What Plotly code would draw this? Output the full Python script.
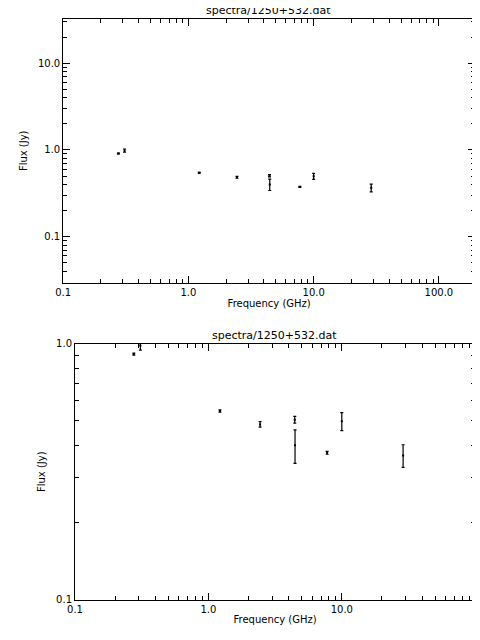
import plotly.graph_objects as go

# Frequency (GHz), flux (Jy), flux error (Jy)
freq = [0.276, 0.309, 1.22, 2.44, 4.44, 4.46, 7.76, 10.0, 28.8]
flux = [0.911, 0.985, 0.546, 0.484, 0.505, 0.401, 0.375, 0.498, 0.366]
err = [0.008, 0.04, 0.006, 0.012, 0.015, 0.06, 0.005, 0.04, 0.037]

title = 'spectra/1250+532.dat'
xticks = [0.1, 1, 10, 100]
xticktext = ['0.1', '1.0', '10.0', '100.0']

fig = go.Figure()
for xa, ya in [('x', 'y'), ('x2', 'y2')]:
    fig.add_trace(go.Scatter(x=freq, y=flux, mode='markers', xaxis=xa, yaxis=ya,
                             marker=dict(color='black', size=2, symbol='square'),
                             error_y=dict(type='data', array=err, color='black',
                                          thickness=1.2, width=1.5),
                             showlegend=False))

ax = dict(type='log', showline=True, linecolor='black', linewidth=1, mirror='allticks',
          ticks='inside', ticklen=7, tickcolor='black', showgrid=False, zeroline=False,
          tickfont=dict(size=10, color='black'),
          minor=dict(ticks='inside', ticklen=4, tickcolor='black', dtick='D1', showgrid=False))

fig.update_layout(
    width=480, height=640, paper_bgcolor='white', plot_bgcolor='white',
    margin=dict(l=0, r=0, t=0, b=0),
    font=dict(family='DejaVu Sans', size=10, color='black'),
    xaxis=dict(ax, domain=[48/480, 467/480], range=[-1, 2.29],
               tickvals=xticks, ticktext=xticktext, anchor='y',
               title=dict(text='Frequency (GHz)', standoff=2, font=dict(size=10))),
    yaxis=dict(ax, domain=[1-274/640, 1-6/640], range=[-1.53, 1.51],
               tickvals=[0.1, 1, 10], ticktext=['0.1', '1.0', '10.0'], anchor='x',
               title=dict(text='Flux (Jy)', standoff=8, font=dict(size=10))),
    xaxis2=dict(ax, domain=[60/480, 467/480], range=[-1, 2],
                tickvals=xticks, ticktext=xticktext, anchor='y2',
                title=dict(text='Frequency (GHz)', standoff=2, font=dict(size=10))),
    yaxis2=dict(ax, domain=[1-596/640, 1-336/640], range=[-1, 0],
                tickvals=[0.1, 1], ticktext=['0.1', '1.0'], anchor='x2',
                title=dict(text='Flux (Jy)', standoff=8, font=dict(size=10))),
    annotations=[
        dict(text=title, x=257/480, y=1-6/640, xref='paper', yref='paper',
             yanchor='bottom', showarrow=False, font=dict(size=11)),
        dict(text=title, x=263/480, y=1-336/640, xref='paper', yref='paper',
             yanchor='bottom', showarrow=False, font=dict(size=11)),
    ],
)

fig.write_html('out.html')
